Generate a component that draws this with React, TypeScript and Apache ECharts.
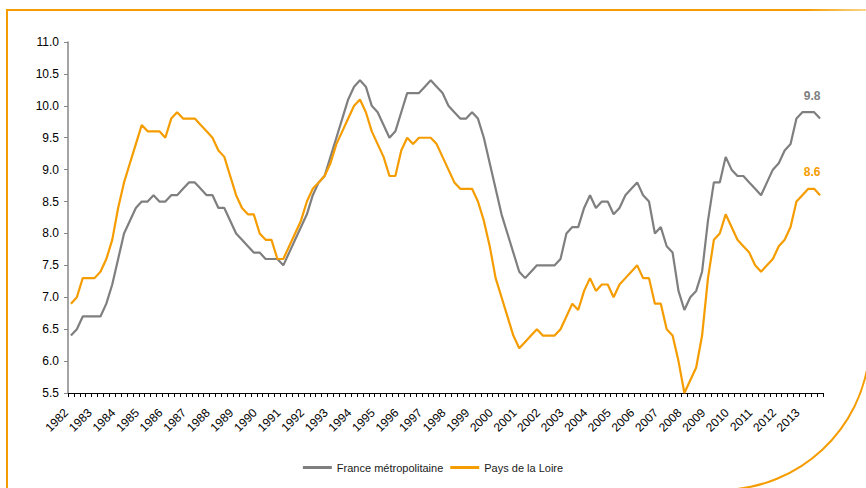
import React, { useEffect, useRef } from "react";
import * as echarts from "echarts";

const yearLabels = [
  "1982", "1983", "1984", "1985", "1986", "1987", "1988", "1989", "1990", "1991",
  "1992", "1993", "1994", "1995", "1996", "1997", "1998", "1999", "2000", "2001",
  "2002", "2003", "2004", "2005", "2006", "2007", "2008", "2009", "2010", "2011",
  "2012", "2013",
];
const quarters = ["T1", "T2", "T3", "T4"];

// Taux de chômage trimestriel (%), France métropolitaine
const france = [
  6.4, 6.5, 6.7, 6.7, 6.7, 6.7, 6.9, 7.2, 7.6, 8.0, 8.2, 8.4,
  8.5, 8.5, 8.6, 8.5, 8.5, 8.6, 8.6, 8.7, 8.8, 8.8, 8.7, 8.6,
  8.6, 8.4, 8.4, 8.2, 8.0, 7.9, 7.8, 7.7, 7.7, 7.6, 7.6, 7.6,
  7.5, 7.7, 7.9, 8.1, 8.3, 8.6, 8.8, 8.9, 9.2, 9.5, 9.8, 10.1,
  10.3, 10.4, 10.3, 10.0, 9.9, 9.7, 9.5, 9.6, 9.9, 10.2, 10.2, 10.2,
  10.3, 10.4, 10.3, 10.2, 10.0, 9.9, 9.8, 9.8, 9.9, 9.8, 9.5, 9.1,
  8.7, 8.3, 8.0, 7.7, 7.4, 7.3, 7.4, 7.5, 7.5, 7.5, 7.5, 7.6,
  8.0, 8.1, 8.1, 8.4, 8.6, 8.4, 8.5, 8.5, 8.3, 8.4, 8.6, 8.7,
  8.8, 8.6, 8.5, 8.0, 8.1, 7.8, 7.7, 7.1, 6.8, 7.0, 7.1, 7.4,
  8.2, 8.8, 8.8, 9.2, 9.0, 8.9, 8.9, 8.8, 8.7, 8.6, 8.8, 9.0,
  9.1, 9.3, 9.4, 9.8, 9.9, 9.9, 9.9, 9.8,
];

// Taux de chômage trimestriel (%), Pays de la Loire
const paysLoire = [
  6.9, 7.0, 7.3, 7.3, 7.3, 7.4, 7.6, 7.9, 8.4, 8.8, 9.1, 9.4,
  9.7, 9.6, 9.6, 9.6, 9.5, 9.8, 9.9, 9.8, 9.8, 9.8, 9.7, 9.6,
  9.5, 9.3, 9.2, 8.9, 8.6, 8.4, 8.3, 8.3, 8.0, 7.9, 7.9, 7.6,
  7.6, 7.8, 8.0, 8.2, 8.5, 8.7, 8.8, 8.9, 9.1, 9.4, 9.6, 9.8,
  10.0, 10.1, 9.9, 9.6, 9.4, 9.2, 8.9, 8.9, 9.3, 9.5, 9.4, 9.5,
  9.5, 9.5, 9.4, 9.2, 9.0, 8.8, 8.7, 8.7, 8.7, 8.5, 8.2, 7.8,
  7.3, 7.0, 6.7, 6.4, 6.2, 6.3, 6.4, 6.5, 6.4, 6.4, 6.4, 6.5,
  6.7, 6.9, 6.8, 7.1, 7.3, 7.1, 7.2, 7.2, 7.0, 7.2, 7.3, 7.4,
  7.5, 7.3, 7.3, 6.9, 6.9, 6.5, 6.4, 6.0, 5.5, 5.7, 5.9, 6.4,
  7.3, 7.9, 8.0, 8.3, 8.1, 7.9, 7.8, 7.7, 7.5, 7.4, 7.5, 7.6,
  7.8, 7.9, 8.1, 8.5, 8.6, 8.7, 8.7, 8.6,
];

const seriesNames = ["France métropolitaine", "Pays de la Loire"];

const GRAY = "#7F7F7F";
const ORANGE = "#F59C00";
const FONT = "'Liberation Sans', Arial, sans-serif";

export default function App() {
  const ref = useRef<HTMLDivElement>(null);

  useEffect(() => {
    if (!ref.current) return;
    const chart = echarts.init(ref.current, undefined, { renderer: "svg" });
    const categories: string[] = [];
    yearLabels.forEach((y) => quarters.forEach((q) => categories.push(`${y} ${q}`)));

    const endMark = (values: number[], color: string) => ({
      symbol: "circle",
      symbolSize: 0,
      silent: true,
      itemStyle: { color: "rgba(0,0,0,0)" },
      label: {
        show: true,
        position: "top",
        distance: 5,
        offset: [-8, -12],
        color,
        fontSize: 12,
        fontWeight: "bold",
        fontFamily: FONT,
        formatter: (p: any) => Number(p.value).toFixed(1),
      },
      data: [
        {
          coord: [categories[values.length - 1], values[values.length - 1]],
          value: values[values.length - 1],
        },
      ],
    });

    chart.setOption({
      animation: false,
      backgroundColor: "#ffffff",
      textStyle: { fontFamily: FONT },
      grid: { left: 68, right: 43, top: 42, bottom: 95, containLabel: false },
      legend: {
        data: seriesNames,
        left: "center",
        top: 457,
        icon: "rect",
        itemWidth: 29,
        itemHeight: 3,
        itemGap: 7,
        textStyle: { fontSize: 11, color: "#1a1a1a", fontFamily: FONT },
      },
      xAxis: {
        type: "category",
        data: categories,
        boundaryGap: true,
        axisLine: { lineStyle: { color: "#000000", width: 1 } },
        axisTick: { show: true, interval: 0, length: 4, lineStyle: { color: "#000000" } },
        axisLabel: {
          interval: 3,
          rotate: 45,
          margin: 13,
          fontSize: 12,
          color: "#000000",
          fontFamily: FONT,
          formatter: (v: string) => v.slice(0, 4) + "\u00a0\u00a0",
        },
        splitLine: { show: false },
      },
      yAxis: {
        type: "value",
        min: 5.5,
        max: 11,
        interval: 0.5,
        axisLine: { show: true, lineStyle: { color: "#868686", width: 1.5 } },
        axisTick: { show: true, length: 4, lineStyle: { color: "#868686", width: 1 } },
        axisLabel: {
          margin: 9,
          fontSize: 12,
          color: "#000000",
          fontFamily: FONT,
          formatter: (v: number) => v.toFixed(1),
        },
        splitLine: { show: false },
      },
      series: [
        {
          name: seriesNames[0],
          type: "line",
          data: france,
          symbol: "none",
          color: GRAY,
          lineStyle: { color: GRAY, width: 2.2 },
          itemStyle: { color: GRAY },
          markPoint: endMark(france, GRAY),
        },
        {
          name: seriesNames[1],
          type: "line",
          data: paysLoire,
          symbol: "none",
          color: ORANGE,
          lineStyle: { color: ORANGE, width: 2.2 },
          itemStyle: { color: ORANGE },
          markPoint: endMark(paysLoire, ORANGE),
        },
      ],
      graphic: [
        {
          type: "rect",
          silent: true,
          shape: { x: 6, y: 9, width: 2, height: 481 },
          style: { fill: ORANGE },
        },
        {
          type: "rect",
          silent: true,
          shape: { x: 6, y: 9, width: 860, height: 2 },
          style: {
            fill: new echarts.graphic.LinearGradient(0, 0, 1, 0, [
              { offset: 0, color: ORANGE },
              { offset: 0.93, color: ORANGE },
              { offset: 1, color: "#FBD58A" },
            ]),
          },
        },
        {
          type: "arc",
          silent: true,
          shape: { cx: 720, cy: 340, r: 150, startAngle: 0.12, endAngle: 1.52, clockwise: true },
          style: { stroke: ORANGE, lineWidth: 2, fill: "none" },
        },
      ],
    });

    return () => chart.dispose();
  }, []);

  return (
    <div
      ref={ref}
      style={{ position: "fixed", left: 0, top: 0, width: 866, height: 488, background: "#fff" }}
    />
  );
}
